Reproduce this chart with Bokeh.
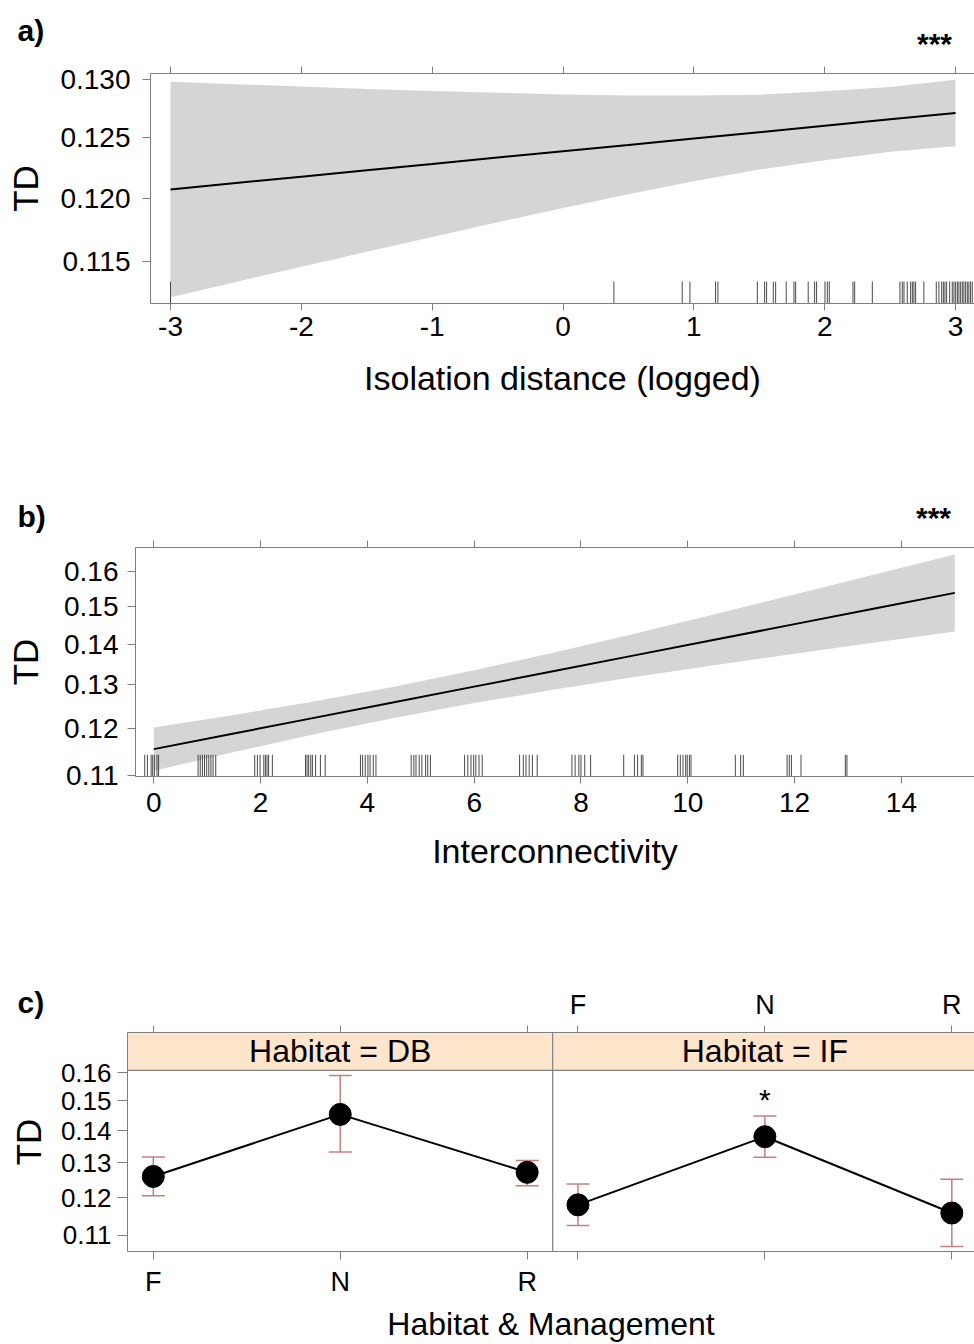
import math
from bokeh.plotting import figure
from bokeh.models import (Range1d, FixedTicker, LinearAxis, PrintfTickFormatter, Span,
                          CustomLabelingPolicy)
from bokeh.layouts import column
from bokeh.embed import file_html
from bokeh.resources import INLINE
from bokeh.core.properties import value

FONT = "Liberation Sans"
GRAY = "#808080"
BAND = "#d5d5d5"
ERR = "#c47f7f"
STRIP = "#ffe5cc"

# ---------------- data: panel a ----------------
iso_x = [-3, -2.5, -2, -1.5, -1, -0.5, 0, 0.5, 1, 1.5, 2, 2.5, 3]
iso_fit = [0.12072, 0.12124, 0.12176, 0.12229, 0.12281, 0.12335, 0.12387,
           0.12440, 0.12494, 0.12548, 0.12602, 0.12657, 0.12712]
iso_upper = [0.12982, 0.12961, 0.12940, 0.12920, 0.12902, 0.12886, 0.12872,
             0.12863, 0.12862, 0.12869, 0.12899, 0.12937, 0.13000]
iso_lower = [0.11224, 0.11341, 0.11457, 0.11574, 0.11691, 0.11807, 0.11921,
             0.12032, 0.12138, 0.12235, 0.12313, 0.12383, 0.12430]
iso_rug = [-3.0, 0.389, 0.911, 0.970, 1.166, 1.184, 1.485, 1.541, 1.556, 1.607,
           1.625, 1.706, 1.765, 1.778, 1.874, 1.923, 1.938, 2.002, 2.020, 2.035,
           2.216, 2.229, 2.364, 2.575, 2.593, 2.606, 2.631, 2.657, 2.670, 2.682,
           2.695, 2.758, 2.853, 2.873, 2.894, 2.907, 2.919, 2.932, 2.955, 2.975,
           2.988, 3.001, 3.014, 3.026, 3.039, 3.052, 3.064, 3.077, 3.090, 3.102,
           3.115, 3.128]
iso_xticks = [-3, -2, -1, 0, 1, 2, 3]
iso_yticks = [0.115, 0.120, 0.125, 0.130]

# ---------------- data: panel b ----------------
con_x = [0, 1.5, 3, 4.5, 6, 7.5, 9, 10.5, 12, 13.5, 15]
con_fit = [0.11546, 0.11882, 0.12228, 0.12584, 0.12950, 0.13327, 0.13715,
           0.14114, 0.14525, 0.14948, 0.15383]
con_upper = [0.12015, 0.12294, 0.12602, 0.12950, 0.13346, 0.13790, 0.14273,
             0.14790, 0.15336, 0.15909, 0.16510]
con_lower = [0.11095, 0.11483, 0.11865, 0.12228, 0.12565, 0.12880, 0.13179,
             0.13469, 0.13757, 0.14044, 0.14333]
con_rug = [-0.17, -0.12, -0.05, -0.02, 0.01, 0.06, 0.09,
           0.83, 0.87, 0.91, 0.95, 0.99, 1.03, 1.07, 1.11, 1.16,
           1.89, 1.94, 1.99, 2.06, 2.09, 2.12, 2.15, 2.22,
           2.84, 2.87, 2.90, 2.94, 2.97, 3.03, 3.12, 3.21,
           3.87, 3.91, 3.96, 4.01, 4.05, 4.11, 4.16,
           4.82, 4.87, 4.91, 4.97, 5.02, 5.09, 5.13, 5.18,
           5.82, 5.88, 5.94, 5.99, 6.03, 6.09, 6.15,
           6.85, 6.92, 6.97, 7.03, 7.09, 7.18,
           7.83, 7.89, 7.96, 8.00, 8.07, 8.18,
           8.80, 9.00, 9.06, 9.13, 9.16,
           9.81, 9.86, 9.91, 9.96, 9.99, 10.03, 10.06,
           10.89, 10.99, 11.04,
           11.86, 11.90, 11.94, 12.12,
           12.95, 12.98]
con_xticks = [0, 2, 4, 6, 8, 10, 12, 14]
con_yticks = [0.11, 0.12, 0.13, 0.14, 0.15, 0.16]

# ---------------- data: panel c ----------------
management = ["F", "N", "R"]
habitats = ["DB", "IF"]
td_DB = [0.1260, 0.1454, 0.1272]
lo_DB = [0.1205, 0.1333, 0.1233]
hi_DB = [0.1318, 0.1591, 0.1307]
td_IF = [0.1180, 0.1381, 0.1158]
lo_IF = [0.1125, 0.1317, 0.1072]
hi_IF = [0.1238, 0.1449, 0.1252]
c_yticks = [0.11, 0.12, 0.13, 0.14, 0.15, 0.16]
sig_IF = ["", "*", ""]


def hide_all():
    return CustomLabelingPolicy(code="for (const i of indices) indices.unset(i)")


def style_axis(ax, size="28px", label_size="34px", tick_out=8, standoff=6,
               label_standoff=5, show_labels=True):
    ax.axis_line_color = GRAY
    ax.major_tick_line_color = GRAY
    ax.major_tick_out = tick_out
    ax.major_tick_in = 0
    ax.minor_tick_line_color = None
    ax.major_label_text_font = FONT
    ax.major_label_text_color = "black"
    ax.axis_label_text_font = FONT
    ax.axis_label_text_font_size = label_size
    ax.axis_label_text_font_style = "normal"
    ax.axis_label_text_color = "black"
    ax.axis_label_standoff = label_standoff
    if show_labels:
        ax.major_label_text_font_size = size
        ax.major_label_standoff = standoff
    else:
        ax.major_label_text_font_size = "1px"
        ax.major_label_standoff = 0
        ax.axis_label_standoff = 0
        ax.major_label_policy = hide_all()


def base_fig(h, xr, yr, left, top, bottom, right=0):
    p = figure(width=974, height=h, x_range=xr, y_range=yr, y_axis_type="log",
               output_backend="svg", toolbar_location=None,
               min_border_left=left, min_border_right=right,
               min_border_top=top, min_border_bottom=bottom)
    p.frame_align = False
    p.xgrid.grid_line_color = None
    p.ygrid.grid_line_color = None
    p.outline_line_color = None
    p.background_fill_color = "white"
    p.border_fill_color = "white"
    return p


def header(h, xr):
    p = figure(width=974, height=h, x_range=xr, y_range=Range1d(h, 0),
               x_axis_location=None, y_axis_location=None,
               output_backend="svg", toolbar_location=None,
               min_border_left=0, min_border_right=0,
               min_border_top=0, min_border_bottom=0)
    p.frame_align = False
    p.outline_line_color = None
    for g in p.grid:
        g.visible = False
    p.background_fill_color = "white"
    p.border_fill_color = "white"
    return p


def put_text(p, x, y, txt, size, bold=False, align="left"):
    p.text(x=[x], y=[y], text=[txt], text_font=value(FONT), text_font_size=size,
           text_font_style="bold" if bold else "normal", text_align=align,
           text_baseline="middle", text_color="black")


# ================= panel a =================
A_Y0, A_Y1 = 0.11177, 0.13055
ha = header(62, Range1d(0, 974))
put_text(ha, 17, 30, "a)", "30px", bold=True)
put_text(ha, 934, 43, "***", "30px", bold=True, align="center")

pa = base_fig(378, Range1d(-3.153, 3.145), Range1d(A_Y0, A_Y1), 150, 11, 137)
pa.add_layout(LinearAxis(ticker=FixedTicker(ticks=iso_xticks)), "above")
pa.below[0].ticker = FixedTicker(ticks=iso_xticks)
pa.below[0].formatter = PrintfTickFormatter(format="%d")
pa.below[0].axis_label = "Isolation distance (logged)"
pa.left[0].ticker = FixedTicker(ticks=iso_yticks)
pa.left[0].formatter = PrintfTickFormatter(format="%.3f")
pa.left[0].axis_label = "TD"
style_axis(pa.below[0], tick_out=7, standoff=6, label_standoff=20)
style_axis(pa.left[0], standoff=12, label_size="35px", label_standoff=12)
style_axis(pa.above[0], tick_out=7, show_labels=False)
pa.varea(x=iso_x, y1=iso_lower, y2=iso_upper, fill_color=BAND)
pa.line(iso_x, iso_fit, line_color="black", line_width=2)
a_rug_top = A_Y0 * math.exp(22 / 1484.5)
pa.segment(x0=iso_rug, y0=[A_Y0] * len(iso_rug), x1=iso_rug,
           y1=[a_rug_top] * len(iso_rug), line_color="#4a4a4a", line_width=1)

# ================= panel b =================
B_Y0, B_Y1 = 0.1098, 0.1672
hb = header(96, Range1d(0, 974))
put_text(hb, 17, 76, "b)", "30px", bold=True)
put_text(hb, 933, 77, "***", "30px", bold=True, align="center")

pb = base_fig(429, Range1d(-0.3427, 15.369), Range1d(B_Y0, B_Y1), 135, 9, 189)
pb.add_layout(LinearAxis(ticker=FixedTicker(ticks=con_xticks)), "above")
pb.below[0].ticker = FixedTicker(ticks=con_xticks)
pb.below[0].formatter = PrintfTickFormatter(format="%d")
pb.below[0].axis_label = "Interconnectivity"
pb.left[0].ticker = FixedTicker(ticks=con_yticks)
pb.left[0].formatter = PrintfTickFormatter(format="%.2f")
pb.left[0].axis_label = "TD"
style_axis(pb.below[0], tick_out=7, standoff=9, label_standoff=17)
style_axis(pb.left[0], standoff=9, label_size="35px", label_standoff=16)
style_axis(pb.above[0], tick_out=7, show_labels=False)
pb.varea(x=con_x, y1=con_lower, y2=con_upper, fill_color=BAND)
pb.line(con_x, con_fit, line_color="black", line_width=2)
b_rug_top = B_Y0 * math.exp(22 / 551.7)
pb.segment(x0=con_rug, y0=[B_Y0] * len(con_rug), x1=con_rug,
           y1=[b_rug_top] * len(con_rug), line_color="#4a4a4a", line_width=1)

# ================= panel c =================
SHIFT = 2.2717           # horizontal offset of the second habitat panel
DIVIDER = 2.1364         # border between the two panels
C_Y0, C_Y1 = 0.10596, 0.17566
STRIP_BOTTOM = 0.16097
X0, X1 = -0.138, 4.393
C_LEFT = 127
unit = (X1 - X0) / (974 - C_LEFT)

pos_DB = [i for i in range(len(management))]
pos_IF = [i + SHIFT for i in range(len(management))]
all_pos = pos_DB + pos_IF

hc = header(56, Range1d(X0 - C_LEFT * unit, X1))
put_text(hc, X0 - (C_LEFT - 17) * unit, 37, "c)", "30px", bold=True)
hc.text(x=pos_IF, y=[39] * len(pos_IF), text=management, text_font=value(FONT),
        text_font_size="27px", text_align="center", text_baseline="middle",
        text_color="black")

pc = base_fig(323, Range1d(X0, X1), Range1d(C_Y0, C_Y1), C_LEFT, 9, 88)
pc.add_layout(LinearAxis(ticker=FixedTicker(ticks=all_pos)), "above")
pc.below[0].ticker = FixedTicker(ticks=all_pos)
style_axis(pc.below[0], tick_out=8, show_labels=False)
# second row below: the labelled management levels of the first habitat
lab_axis = LinearAxis(ticker=FixedTicker(ticks=pos_DB),
                      major_label_overrides={p_: m for p_, m in zip(pos_DB, management)},
                      axis_label="Habitat & Management")
pc.add_layout(lab_axis, "below")
style_axis(lab_axis, size="27px", label_size="32px", tick_out=0, standoff=3,
           label_standoff=6)
lab_axis.axis_line_color = None
lab_axis.major_tick_line_color = None
pc.left[0].ticker = FixedTicker(ticks=c_yticks)
pc.left[0].formatter = PrintfTickFormatter(format="%.2f")
pc.left[0].axis_label = "TD"
style_axis(pc.left[0], size="26px", label_size="35px", tick_out=10, standoff=6,
           label_standoff=10)
style_axis(pc.above[0], tick_out=7, show_labels=False)

# strips
pc.quad(left=[X0, DIVIDER], right=[DIVIDER, X1], bottom=[STRIP_BOTTOM] * 2,
        top=[C_Y1] * 2, fill_color=STRIP, line_color=None)
pc.add_layout(Span(location=STRIP_BOTTOM, dimension="width", line_color=GRAY,
                   line_width=1.2))
strip_mid = math.sqrt(STRIP_BOTTOM * C_Y1)
pc.text(x=[pos_DB[1], pos_IF[1]], y=[strip_mid] * 2,
        text=["Habitat = " + h for h in habitats],
        text_font=value(FONT), text_font_size="32px", text_align="center",
        text_baseline="middle", text_color="black")
pc.add_layout(Span(location=DIVIDER, dimension="height", line_color=GRAY,
                   line_width=1.2))

for pos, td, lo, hi in ((pos_DB, td_DB, lo_DB, hi_DB), (pos_IF, td_IF, lo_IF, hi_IF)):
    pc.segment(x0=pos, y0=lo, x1=pos, y1=hi, line_color=ERR, line_width=1.5)
    pc.scatter(x=pos + pos, y=lo + hi, marker="dash", size=23,
               line_color=ERR, line_width=1.5)
    pc.line(pos, td, line_color="black", line_width=2)
    pc.scatter(pos, td, size=22, fill_color="black", line_color="black")

pc.text(x=pos_IF, y=hi_IF, text=sig_IF, y_offset=-16, text_font=value(FONT),
        text_font_size="30px", text_align="center", text_baseline="middle",
        text_color="black")

layout = column(ha, pa, hb, pb, hc, pc, spacing=0)
open("out.html", "w").write(file_html(layout, INLINE))
